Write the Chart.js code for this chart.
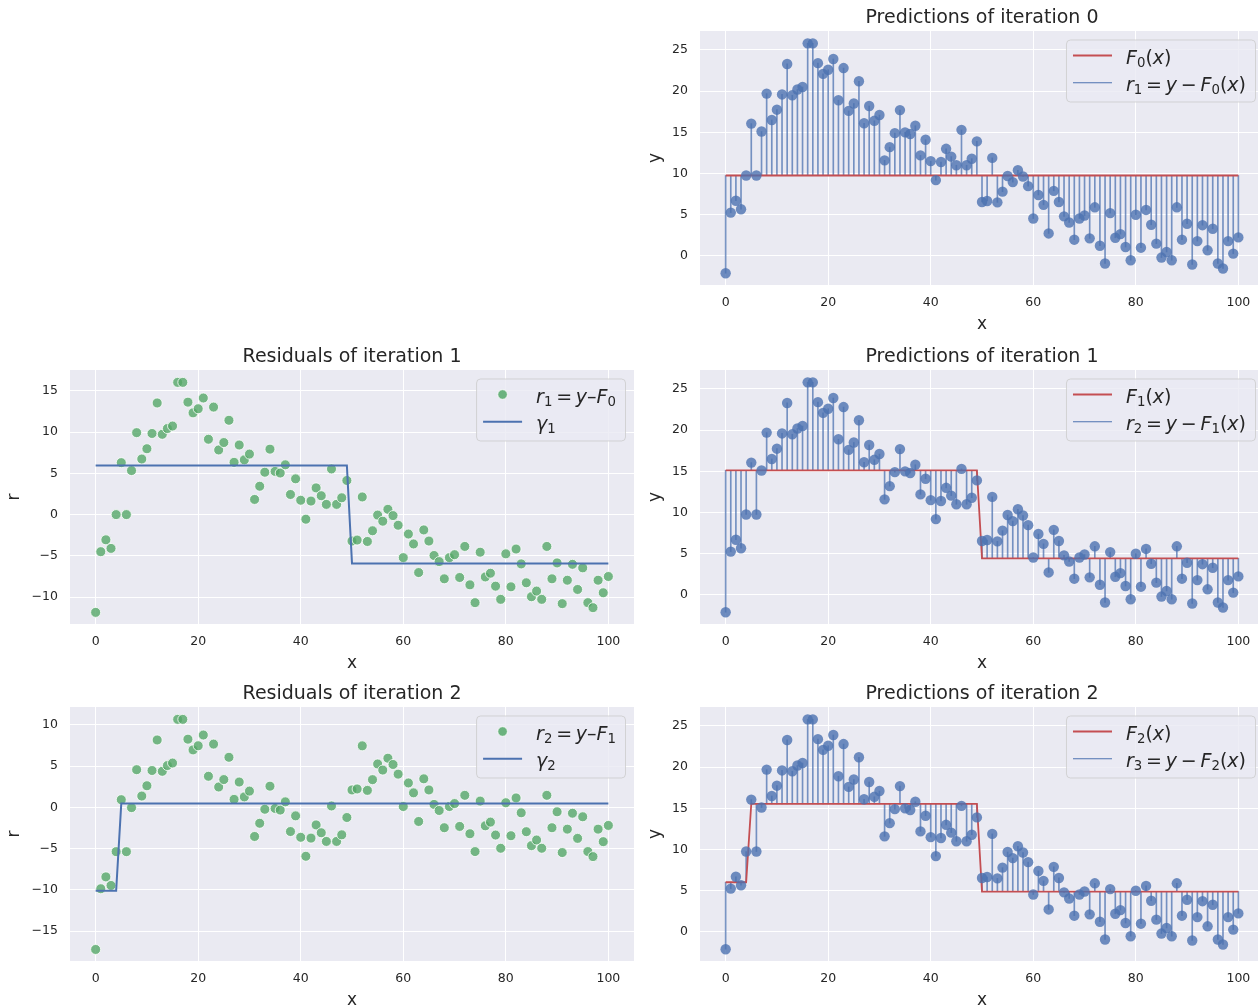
<!DOCTYPE html>
<html>
<head>
<meta charset="utf-8">
<script src="https://cdn.jsdelivr.net/npm/chart.js@4.4.1/dist/chart.umd.min.js"></script>
<style>
html, body { margin: 0; padding: 0; background: #ffffff; overflow: hidden; width: 1258px; height: 1006px; }
canvas { position: absolute; }
</style>
</head>
<body>
<canvas id="pred0" width="640" height="336" style="left:640px;top:0px;"></canvas>
<canvas id="res1" width="640" height="336" style="left:0px;top:339px;"></canvas>
<canvas id="pred1" width="640" height="336" style="left:640px;top:339px;"></canvas>
<canvas id="res2" width="640" height="336" style="left:0px;top:676px;"></canvas>
<canvas id="pred2" width="640" height="336" style="left:640px;top:676px;"></canvas>
<script>
// ---------------- data ----------------
const xValues = [0,1,2,3,4,5,6,7,8,9,10,11,12,13,14,15,16,17,18,19,20,21,22,23,24,25,26,27,28,29,30,
  31,32,33,34,35,36,37,38,39,40,41,42,43,44,45,46,47,48,49,50,51,52,53,54,55,56,57,58,59,60,
  61,62,63,64,65,66,67,68,69,70,71,72,73,74,75,76,77,78,79,80,81,82,83,84,85,86,87,88,89,90,
  91,92,93,94,95,96,97,98,99,100];
const yValues = [-2.1,5.26,6.7,5.66,9.76,16.06,9.76,15.1,19.7,16.5,
  17.75,19.6,23.3,19.5,20.2,20.5,25.8,25.8,23.4,22.1,
  22.6,23.9,18.9,22.8,17.6,18.5,21.2,16.1,18.2,16.4,
  17.1,11.6,13.2,14.9,17.7,15.0,14.8,15.8,12.2,14.1,
  11.5,9.2,11.4,13.0,12.05,11.0,15.3,11.0,11.8,13.9,
  6.55,6.67,11.9,6.5,7.8,9.7,8.96,10.4,9.64,8.47,
  4.54,7.4,6.2,2.73,7.9,6.55,4.8,4.06,1.97,4.54,
  4.9,2.13,5.9,1.24,-0.92,5.2,2.2,2.65,1.08,-0.52,
  5.0,1.0,5.58,3.78,1.49,-0.2,0.48,-0.52,5.9,1.97,
  3.9,-1.04,1.8,3.73,0.68,3.3,-0.92,-1.53,1.8,0.28,2.25];
// step-function levels and the x where each new level starts
const F0Levels = [9.76];
const F0Splits = [];
const F1Levels = [15.12, 4.43];
const F1Splits = [50];
const F2Levels = [6.03, 15.55, 4.9];
const F2Splits = [5, 50];
const gamma1Levels = [5.96, -5.92];
const gamma1Splits = [50];
const gamma2Levels = [-10.1, 0.48];
const gamma2Splits = [5];
// ticks
const xTicks = [0, 20, 40, 60, 80, 100];
const yTicksPred = [0, 5, 10, 15, 20, 25];
const yTicksRes1 = [-10, -5, 0, 5, 10, 15];
const yTicksRes2 = [-15, -10, -5, 0, 5, 10];
// titles
const titlePred = ['Predictions of iteration 0', 'Predictions of iteration 1', 'Predictions of iteration 2'];
const titleRes = ['Residuals of iteration 1', 'Residuals of iteration 2'];
// legend labels (math segments: i = italic, r = roman, s = subscript, g = gap in em)
const EQ = [['0.2','g'],['=','r'],['0.2','g']];
const MINUS = [['0.2','g'],['\u2212','r'],['0.2','g']];
const labelF = k => [['F','i'],[String(k),'s'],['(','r'],['x','i'],[')','r']];
const labelR = k => [['r','i'],[String(k+1),'s'], ...EQ, ['y','i'], ...MINUS, ['F','i'],[String(k),'s'],['(','r'],['x','i'],[')','r']];
const labelResPts = k => [['r','i'],[String(k),'s'], ...EQ, ['y','i'], ['\u2013','r'], ['F','i'],[String(k-1),'s']];
const labelGamma = k => [['\u03b3','i'],[String(k),'s']];

// ---------------- derived series ----------------
function stepSeries(levels, splits) {
  return xValues.map(x => { let k = 0; while (k < splits.length && x >= splits[k]) k++; return levels[k]; });
}
const F0 = stepSeries(F0Levels, F0Splits);
const F1 = stepSeries(F1Levels, F1Splits);
const F2 = stepSeries(F2Levels, F2Splits);
const gamma1 = stepSeries(gamma1Levels, gamma1Splits);
const gamma2 = stepSeries(gamma2Levels, gamma2Splits);
const r1 = yValues.map((v, i) => v - F0[i]);
const r2 = yValues.map((v, i) => v - F1[i]);

// ---------------- styling ----------------
const FONT = '"DejaVu Sans"';
const TXT = '#262626';
const BLUE = '#4c72b0', RED = '#c44e52';
Chart.defaults.font.family = FONT;
Chart.defaults.color = TXT;

const fmt = v => (v < 0 ? '\u2212' + Math.abs(v) : String(v));

function segFont(s, fs) {
  if (s === 'i') return 'italic ' + fs + 'px ' + FONT;
  if (s === 's') return (fs * 0.7).toFixed(2) + 'px ' + FONT;
  return fs + 'px ' + FONT;
}
function mathWidth(ctx, segs, fs) {
  let w = 0;
  for (const [t, s] of segs) {
    if (s === 'g') { w += parseFloat(t) * fs; continue; }
    ctx.font = segFont(s, fs); w += ctx.measureText(t).width;
  }
  return w;
}
function drawMath(ctx, segs, x, base, fs) {
  ctx.textBaseline = 'alphabetic'; ctx.textAlign = 'left'; ctx.fillStyle = TXT;
  for (const [t, s] of segs) {
    if (s === 'g') { x += parseFloat(t) * fs; continue; }
    ctx.font = segFont(s, fs);
    ctx.fillText(t, x, base + (s === 's' ? fs * 0.16 : 0));
    x += ctx.measureText(t).width;
  }
}

const bgPlugin = {
  id: 'axbg',
  beforeDraw(chart) {
    const { ctx, chartArea: a } = chart;
    ctx.save(); ctx.fillStyle = '#eaeaf2';
    ctx.fillRect(a.left, a.top, a.right - a.left, a.bottom - a.top);
    ctx.restore();
  }
};

function makeLegend(items) {
  return {
    id: 'mathLegend',
    afterDraw(chart) {
      const ctx = chart.ctx, a = chart.chartArea, fs = 19;
      ctx.save();
      const tw = Math.max(...items.map(it => mathWidth(ctx, it.label, fs)));
      const textStart = 60, w = textStart + tw + 9, h = 62;
      const right = a.right - 9, top = a.top + 8.5, left = right - w;
      ctx.beginPath();
      if (ctx.roundRect) ctx.roundRect(left + 0.5, top + 0.5, w, h, 4); else ctx.rect(left + 0.5, top + 0.5, w, h);
      ctx.fillStyle = 'rgba(234,234,242,0.8)'; ctx.fill();
      ctx.strokeStyle = 'rgba(204,204,204,0.8)'; ctx.lineWidth = 1; ctx.stroke();
      items.forEach((it, k) => {
        const cy = top + 16 + k * 27.3;
        if (it.kind === 'line') {
          ctx.beginPath(); ctx.strokeStyle = it.color; ctx.lineWidth = it.width;
          ctx.moveTo(left + 7, cy); ctx.lineTo(left + 46, cy); ctx.stroke();
        } else {
          ctx.beginPath(); ctx.arc(left + 26.5, cy, 4.8, 0, Math.PI * 2);
          ctx.fillStyle = it.color; ctx.fill();
          ctx.strokeStyle = '#ffffff'; ctx.lineWidth = 0.8; ctx.stroke();
        }
        drawMath(ctx, it.label, left + textStart, cy + 8, fs);
      });
      ctx.restore();
    }
  };
}

function panel(id, cfg) {
  const yAxisWidth = cfg.left ? 70 : 60;
  const padRight = cfg.left ? 6 : 16;
  const yTitlePad = cfg.left ? 4.8 : 5.8;
  return new Chart(document.getElementById(id), {
    type: 'scatter',
    data: { datasets: cfg.datasets },
    options: {
      responsive: false, animation: false, events: [],
      layout: { padding: { left: 0, right: padRight, top: 0, bottom: 0 } },
      plugins: {
        legend: { display: false }, tooltip: { enabled: false },
        title: { display: true, text: cfg.title, fullSize: false, color: TXT,
          font: { size: 19, weight: 'normal', family: FONT, lineHeight: 1.2 },
          padding: { top: 7, bottom: 1.2 } }
      },
      scales: {
        x: {
          type: 'linear', min: -5, max: 105, offset: false,
          afterBuildTicks: s => { s.ticks = xTicks.map(v => ({ value: v })); },
          afterFit: s => { s.height = 51; },
          grid: { color: '#ffffff', lineWidth: 1, drawTicks: false, offset: false },
          border: { display: false },
          ticks: { padding: 10, color: TXT, font: { size: 12.5 }, maxRotation: 0, callback: v => fmt(v) },
          title: { display: true, text: 'x', color: TXT, font: { size: 17, lineHeight: 1.2 }, padding: { top: 0, bottom: 1 } }
        },
        y: {
          type: 'linear', min: cfg.ymin, max: cfg.ymax,
          afterBuildTicks: s => { s.ticks = cfg.yTicks.map(v => ({ value: v })); },
          afterFit: s => { s.width = yAxisWidth; },
          grid: { color: '#ffffff', lineWidth: 1, drawTicks: false },
          border: { display: false },
          ticks: { padding: 12, color: TXT, font: { size: 12.5 }, callback: v => fmt(v) },
          title: { display: true, text: cfg.ytitle, color: TXT, font: { size: 17, lineHeight: 1.2 }, padding: { top: yTitlePad, bottom: 0 } }
        }
      }
    },
    plugins: [bgPlugin, makeLegend(cfg.legend)]
  });
}

function predDatasets(F) {
  return [
    { type: 'scatter', data: xValues.map((x, i) => ({ x, y: yValues[i] })),
      backgroundColor: 'rgba(76,114,176,0.8)', borderWidth: 0, pointRadius: 5.2, order: 0 },
    { type: 'line', data: xValues.map((x, i) => ({ x, y: F[i] })),
      borderColor: RED, borderWidth: 1.8, pointRadius: 0, tension: 0, fill: false, order: 1 },
    { type: 'bar', data: xValues.map((x, i) => ({ x, y: [F[i], yValues[i]] })),
      backgroundColor: 'rgba(76,114,176,0.75)', barThickness: 1, borderWidth: 0, order: 2 }
  ];
}
function resDatasets(r, g) {
  return [
    { type: 'line', data: xValues.map((x, i) => ({ x, y: g[i] })),
      borderColor: BLUE, borderWidth: 2, pointRadius: 0, tension: 0, fill: false, order: 0 },
    { type: 'scatter', data: xValues.map((x, i) => ({ x, y: r[i] })),
      backgroundColor: 'rgba(85,168,104,0.8)', borderColor: '#ffffff', borderWidth: 0.8, pointRadius: 5, order: 1 }
  ];
}

const predRange = { ymin: -3.53, ymax: 27.3 };
const preds = [F0, F1, F2];
['pred0', 'pred1', 'pred2'].forEach((id, k) => {
  panel(id, {
    left: false, title: titlePred[k], ytitle: 'y', yTicks: yTicksPred, ...predRange,
    datasets: predDatasets(preds[k]),
    legend: [
      { kind: 'line', color: RED, width: 1.8, label: labelF(k) },
      { kind: 'line', color: BLUE, width: 1.1, label: labelR(k) }
    ]
  });
});
panel('res1', {
  left: true, title: titleRes[0], ytitle: 'r', yTicks: yTicksRes1, ymin: -13.27, ymax: 17.54,
  datasets: resDatasets(r1, gamma1),
  legend: [
    { kind: 'dot', color: 'rgba(85,168,104,0.85)', label: labelResPts(1) },
    { kind: 'line', color: BLUE, width: 2, label: labelGamma(1) }
  ]
});
panel('res2', {
  left: true, title: titleRes[1], ytitle: 'r', yTicks: yTicksRes2, ymin: -18.62, ymax: 12.18,
  datasets: resDatasets(r2, gamma2),
  legend: [
    { kind: 'dot', color: 'rgba(85,168,104,0.85)', label: labelResPts(2) },
    { kind: 'line', color: BLUE, width: 2, label: labelGamma(2) }
  ]
});
</script>
</body>
</html>
